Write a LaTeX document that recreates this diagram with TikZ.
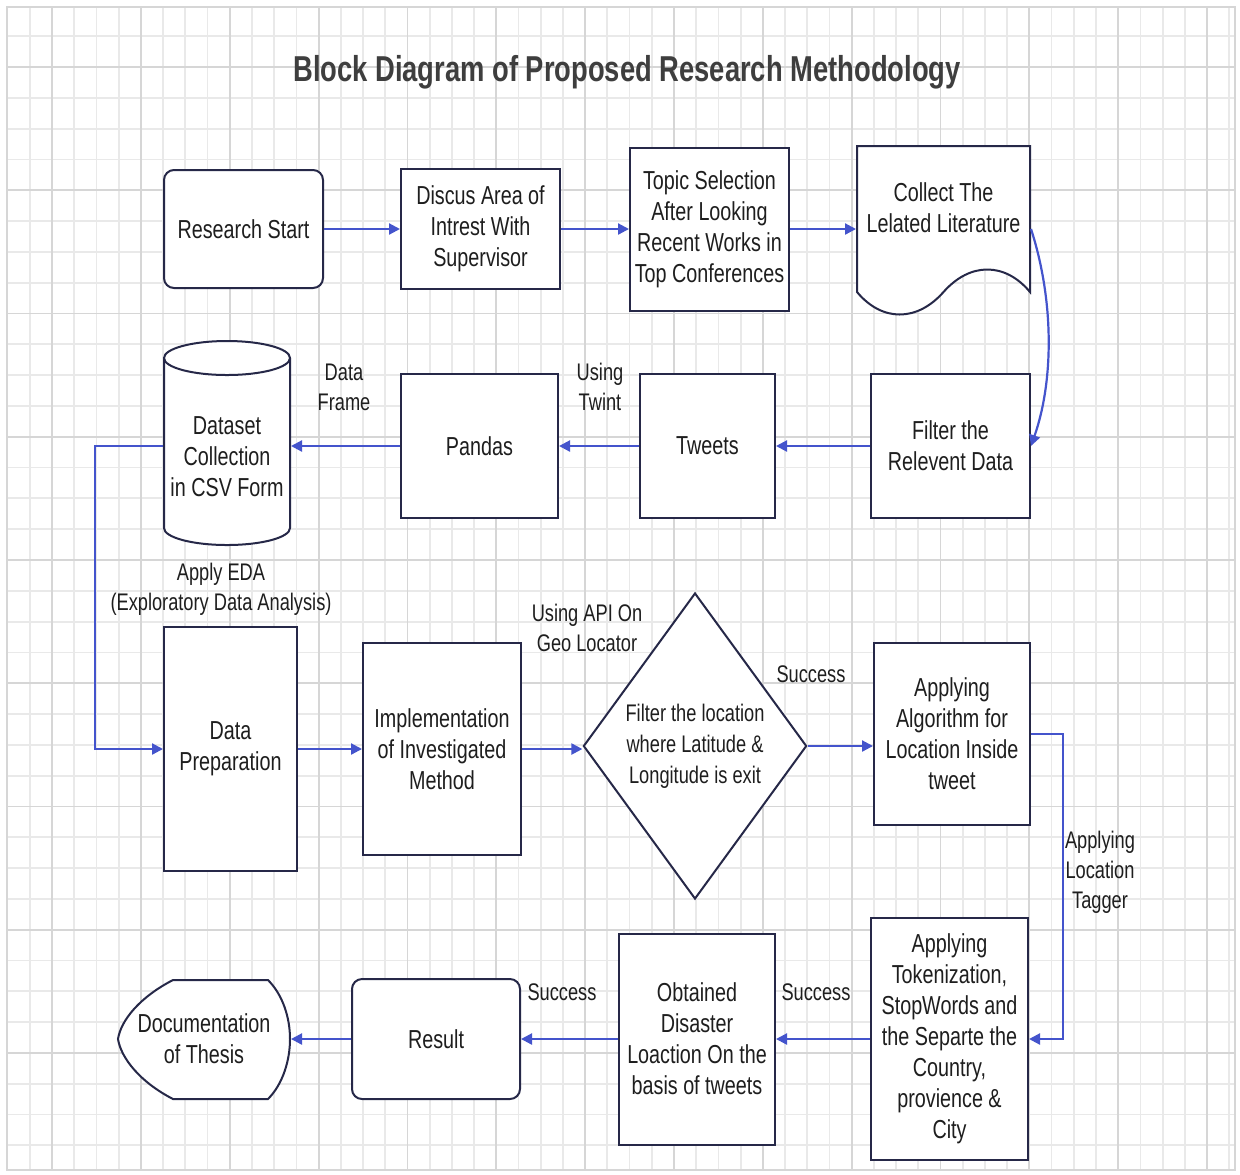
\documentclass[tikz,border=0pt]{standalone}
\usepackage{fontspec}
\setmainfont[FakeStretch=0.76]{Liberation Sans}
\usetikzlibrary{arrows.meta,shapes.geometric}

\definecolor{boxline}{RGB}{38,40,72}
\definecolor{flowblue}{RGB}{68,84,204}
\definecolor{gridminor}{RGB}{233,233,233}
\definecolor{gridmajor}{RGB}{214,214,214}
\definecolor{titlegray}{RGB}{62,62,62}
\definecolor{inkgray}{RGB}{30,30,30}

\begin{document}
\begin{tikzpicture}[x=0.5pt, y=-0.5pt,
    box/.style={draw=boxline, line width=1pt, fill=white, align=center, text=inkgray, inner sep=1pt, font=\fontsize{13}{15.5}\selectfont},
    roundbox/.style={box, rounded corners=5pt},
    flow/.style={draw=flowblue, line width=1.1pt, -{Triangle[length=5.5pt,width=5.5pt]}},
    note/.style={align=center, text=inkgray, font=\fontsize{12}{15}\selectfont}]
    \useasboundingbox (0,0) rectangle (1240,1174);

    % Grid paper background
    \fill[white] (0,0) rectangle (1240,1174);
    \foreach \i in {1,...,55} \draw[gridminor, line width=0.9pt] ({7.7+22.21*\i},7) -- ({7.7+22.21*\i},1170);
    \foreach \j in {1,...,37} \draw[gridminor, line width=0.9pt] (7,{5.4+30.81*\j}) -- (1235,{5.4+30.81*\j});
    \foreach \i in {2,6,...,54} \draw[gridmajor, line width=0.9pt] ({7.7+22.21*\i},7) -- ({7.7+22.21*\i},1170);
    \foreach \j in {2,6,...,34} \draw[gridmajor, line width=0.9pt] (7,{5.4+30.81*\j}) -- (1235,{5.4+30.81*\j});
    \draw[gridmajor, line width=0.9pt] (7,7) rectangle (1235,1170);

    % Title
    \node[font=\bfseries\fontsize{18}{22}\selectfont, text=titlegray] (title) at (627,72) {Block Diagram of Proposed Research Methodology};

    % First row
    \node[roundbox, minimum width=79.5pt, minimum height=59pt] (start) at (243.5,229) {Research Start};
    \node[box, minimum width=79.5pt, minimum height=60pt] (discus) at (480.5,229) {Discus Area of\\Intrest With\\Supervisor};
    \node[box, minimum width=79.5pt, minimum height=81.5pt] (topic) at (709.5,229) {Topic Selection\\After Looking\\Recent Works in\\Top Conferences};
    % document shape
    \filldraw[fill=white, draw=boxline, line width=1pt] (857,146) -- (1030,146) -- (1030,292)
        .. controls (1005,262) and (970,262) .. (943.5,292)
        .. controls (917,322) and (882,322) .. (857,292) -- cycle;
    \node[box, draw=none, fill=none, minimum width=86.5pt] (lit) at (943.5,208) {Collect The\\Lelated Literature};

    % Second row
    \node[box, minimum width=79.5pt, minimum height=72pt] (filt) at (950.5,446) {Filter the\\Relevent Data};
    \node[box, minimum width=67.5pt, minimum height=72pt] (tweets) at (707.5,446) {Tweets};
    \node[box, minimum width=78.5pt, minimum height=72pt] (pandas) at (479.5,446) {Pandas};
    % cylinder for the csv data
    \filldraw[fill=white, draw=boxline, line width=1pt] (164,358) -- (164,528)
        arc[start angle=180, end angle=360, x radius=31.5pt, y radius=8.5pt] -- (290,358);
    \filldraw[fill=white, draw=boxline, line width=1pt] (227,358) ellipse[x radius=31.5pt, y radius=8.5pt];
    \node[box, draw=none, fill=none, minimum width=63pt] (csv) at (227,457) {Dataset\\Collection\\in CSV Form};

    % Third row
    \node[box, minimum width=66.5pt, minimum height=122pt] (prep) at (230.5,749) {Data\\Preparation};
    \node[box, minimum width=79pt, minimum height=106pt] (impl) at (442,749) {Implementation\\of Investigated\\Method};
    \node[box, diamond, minimum width=111pt, minimum height=153pt, inner sep=0pt, font=\fontsize{12}{15.5}\selectfont] (geo) at (695,746) {Filter the location\\where Latitude \&\\Longitude is exit};
    \node[box, minimum width=78pt, minimum height=91pt] (algo) at (952,734) {Applying\\Algorithm for\\Location Inside\\tweet};

    % Fourth row
    \node[box, minimum width=78.5pt, minimum height=121pt] (tok) at (949.5,1039) {Applying\\Tokenization,\\StopWords and\\the Separte the\\Country,\\provience \&\\City};
    \node[box, minimum width=78pt, minimum height=105.5pt] (obt) at (697,1039) {Obtained\\Disaster\\Loaction On the\\basis of tweets};
    \node[roundbox, minimum width=84pt, minimum height=60pt] (res) at (436,1039) {Result};
    % display shape for the thesis
    \filldraw[fill=white, draw=boxline, line width=1pt] (173,980) -- (268,980)
        .. controls (283,995) and (290,1018) .. (290,1039)
        .. controls (290,1060) and (283,1084) .. (268,1099) -- (173,1099)
        .. controls (140,1082) and (121,1058) .. (118,1039)
        .. controls (121,1020) and (140,997) .. (173,980) -- cycle;
    \node[box, draw=none, fill=none, minimum width=86pt] (thesis) at (204,1039) {Documentation\\of Thesis};

    % Connectors
    \draw[flow] (start.east) -- (discus.west);
    \draw[flow] (discus.east) -- (topic.west);
    \draw[flow] (topic.east) -- (topic.east -| lit.west);
    \draw[flow] (lit.east |- topic.east) .. controls (1054,300) and (1054,380) .. (filt.east);
    \draw[flow] (filt.west) -- (tweets.east);
    \draw[flow] (tweets.west) -- (pandas.east);
    \draw[flow] (pandas.west) -- (pandas.west -| csv.east);
    \draw[flow] (pandas.west -| csv.west) -- ++(-68,0) |- (prep.west);
    \draw[flow] (prep.east) -- (impl.west);
    \draw[flow] (impl.east) -- (impl.east -| geo.west);
    \draw[flow] (geo.east) -- (geo.east -| algo.west);
    \draw[flow] (algo.east) -- ++(32,0) |- (tok.east);
    \draw[flow] (tok.west) -- (obt.east);
    \draw[flow] (obt.west) -- (res.east);
    \draw[flow] (res.west) -- (thesis.east);

    % Connector labels
    \node[note] (frame) at (344,387) {Data\\Frame};
    \node[note] (twint) at (600,387) {Using\\Twint};
    \node[note] (eda) at (221,589) {Apply EDA\\(Exploratory Data Analysis)};
    \node[note] (api) at (587,628) {Using API On\\Geo Locator};
    \node[note] (ok1) at (811,674) {Success};
    \node[note] (tagger) at (1100,872) {Applying\\Location\\Tagger};
    \node[note] (ok2) at (562,992) {Success};
    \node[note] (ok3) at (816,992) {Success};
\end{tikzpicture}
\end{document}
